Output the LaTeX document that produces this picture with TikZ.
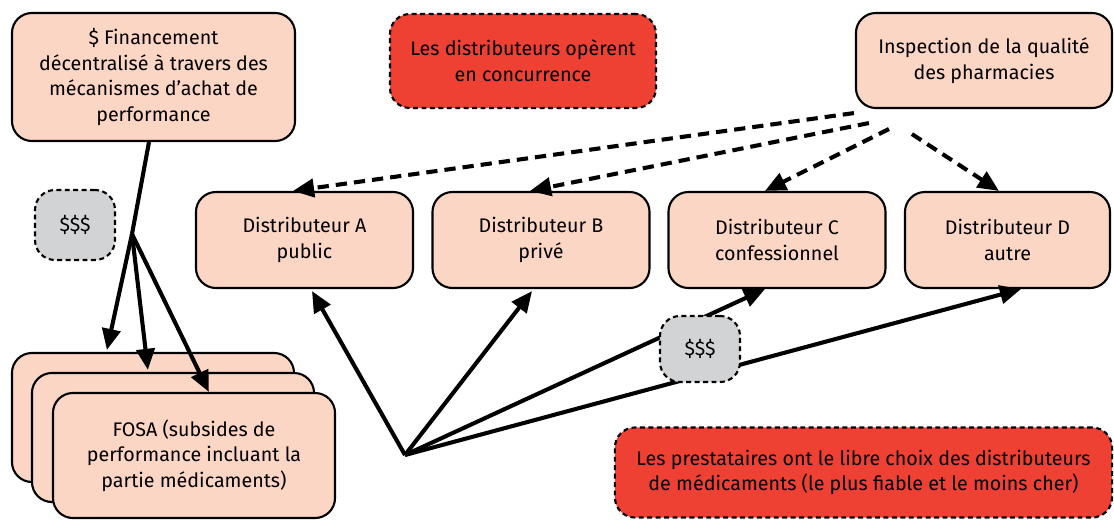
\documentclass[tikz,border=0pt]{standalone}
\usepackage{fontspec}
\setmainfont{Fira Sans}
\usetikzlibrary{arrows.meta,calc}
\definecolor{peach}{RGB}{251,214,196}
\definecolor{alert}{RGB}{238,65,52}
\definecolor{cash}{RGB}{209,211,212}
\begin{document}
\begin{tikzpicture}[x=0.025cm,y=-0.025cm,
  base/.style={rounded corners=0.5cm,align=center,inner sep=0pt,
    font=\fontsize{14}{18.2}\selectfont,text=black},
  box/.style={base,draw,fill=peach,line width=1.5pt},
  note/.style={base,draw,fill=alert,line width=1.5pt,dash pattern=on 3.5pt off 2.5pt},
  money/.style={base,draw,fill=cash,line width=1.5pt,dash pattern=on 3.5pt off 2.5pt},
  flow/.style={line width=2.9pt,-{Triangle[length=15pt,width=13pt]}},
  audit/.style={flow,dash pattern=on 8pt off 5pt}]
\useasboundingbox (0,0) rectangle (1114,520);

% top row
\node[box,minimum width=7.075cm,minimum height=3.2cm] (fin) at (153.5,77)
  {\$ Financement\\décentralisé à travers des\\mécanismes d’achat de\\performance};
\node[note,minimum width=6.65cm,minimum height=2.35cm] (conc) at (523,61)
  {Les distributeurs opèrent\\en concurrence};
\node[box,minimum width=6.4cm,minimum height=2.375cm] (insp) at (984,60.5)
  {Inspection de la qualité\\des pharmacies};

% distributors
\node[box,minimum width=5.425cm,minimum height=2.4cm] (A) at (304.5,240) {Distributeur A\\public};
\node[box,minimum width=5.425cm,minimum height=2.4cm] (B) at (541,240) {Distributeur B\\privé};
\node[box,minimum width=5.425cm,minimum height=2.4cm] (C) at (777,240) {Distributeur C\\confessionnel};
\node[box,minimum width=5.125cm,minimum height=2.4cm] (D) at (1007.5,240) {Distributeur D\\autre};

% stack of health facilities
\node[box,minimum width=7.05cm,minimum height=3.225cm] (fosa1) at (153,417.5) {};
\node[box,minimum width=7.05cm,minimum height=3.225cm] (fosa2) at (173,437.5) {};
\node[box,minimum width=7.05cm,minimum height=3.125cm] (fosa3) at (194,455.5)
  {FOSA (subsides de\\performance incluant la\\partie médicaments)};

\node[note,minimum width=12.425cm,minimum height=2.25cm] (choix) at (863.5,472.5)
  {Les prestataires ont le libre choix des distributeurs\\de médicaments (le plus fiable et le moins cher)};

% funding flow
\node[money,minimum width=2cm,minimum height=1.75cm] (cash1) at (75,225) {\$\$\$};
\coordinate (j1) at (132,234);
\draw[line width=2.9pt] ($(fin.south)+(-4.5,0)$) -- (j1);
\draw[flow] (j1) -- ($(fosa1.north west)+(96,-2)$);
\draw[flow] (j1) -- ($(fosa2.north west)+(117,-2)$);
\draw[flow] (j1) -- ($(fosa3.north west)+(157,0)$);

% free choice of distributor
\coordinate (j2) at (405,455);
\draw[flow] (j2) -- ($(A.south)+(7.5,2)$);
\draw[flow] (j2) -- ($(B.south)+(-9,2)$);
\draw[flow] (j2) -- ($(C.south)+(-12,0)$);
\draw[flow] (j2) -- ($(D.south)+(13.5,0)$);
\node[money,minimum width=2cm,minimum height=1.65cm] (cash2) at (700,349) {\$\$\$};

% quality inspection
\draw[audit] ($(insp.south west)+(-1,4)$) -- ($(A.north)+(-11.5,0)$);
\draw[audit] ($(insp.south west)+(14,14)$) -- ($(B.north)+(-11,0)$);
\draw[audit] ($(insp.south west)+(34,20)$) -- ($(C.north)+(-12,0)$);
\draw[audit] ($(insp.south west)+(57,25)$) -- ($(D.north)+(-8.5,0)$);
\end{tikzpicture}
\end{document}
